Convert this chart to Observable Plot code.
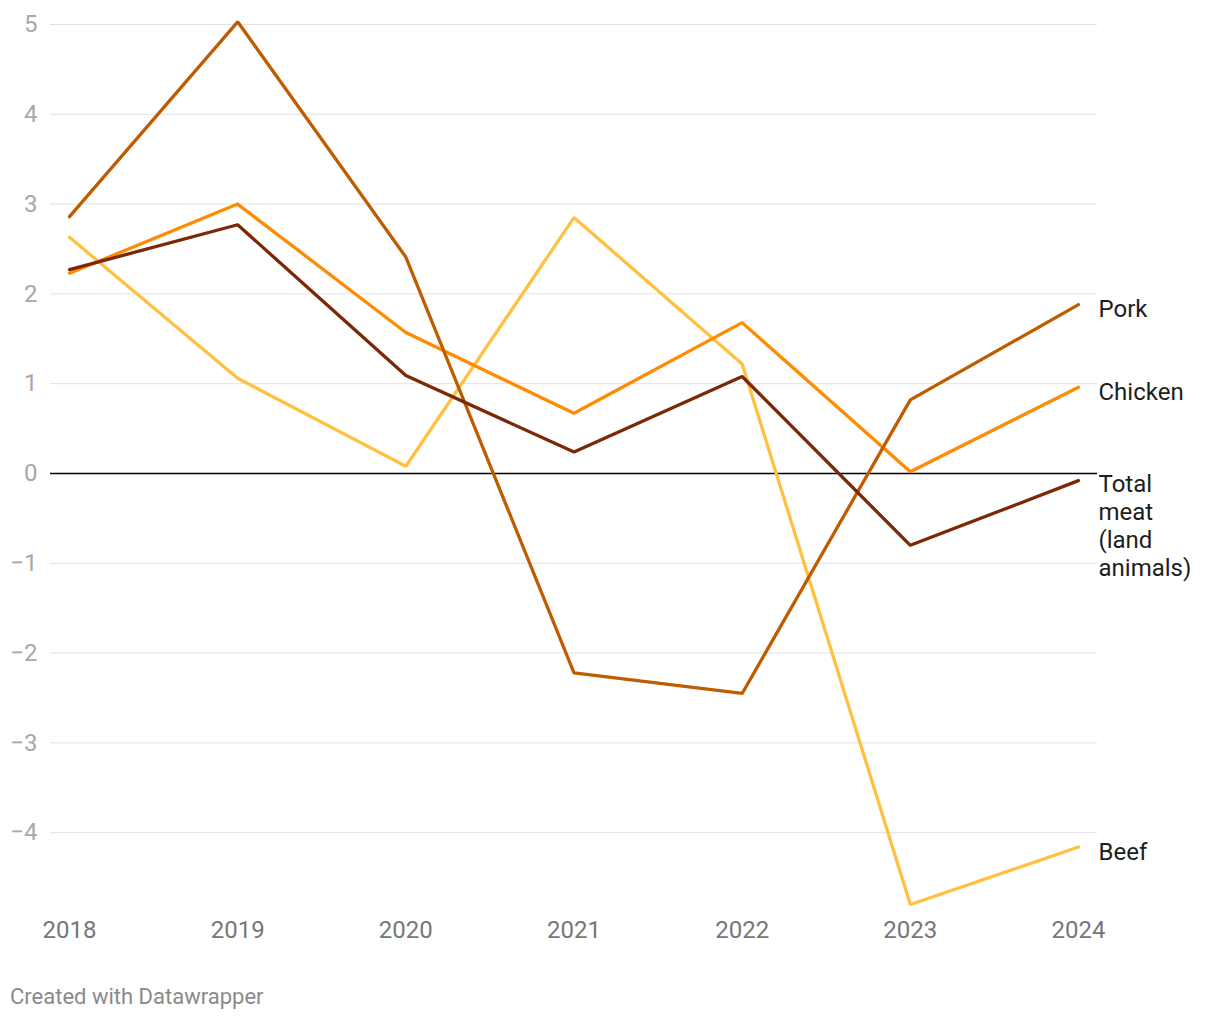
<!DOCTYPE html>
<html>
<head>
<meta charset="utf-8">
<script src="https://cdn.jsdelivr.net/npm/d3@7"></script>
<script src="https://cdn.jsdelivr.net/npm/@observablehq/plot@0.6"></script>
<style>
  body { margin: 0; background: #fff; font-family: Roboto, "Noto Sans", sans-serif; }
  #wrap { position: relative; width: 1220px; height: 1020px; }
  #footer { position: absolute; left: 10px; top: 985px; font-size: 22px; line-height: 24px; color: #8a8a8a; font-family: Roboto, sans-serif; }
</style>
</head>
<body>
<div id="wrap">
  <div id="chart"></div>
  <div id="footer">Created with Datawrapper</div>
</div>
<script>
const years = [2018, 2019, 2020, 2021, 2022, 2023, 2024];
const pork = [2.86, 5.03, 2.41, -2.22, -2.45, 0.82, 1.88];
const chicken = [2.23, 3.0, 1.57, 0.67, 1.68, 0.02, 0.96];
const totalMeat = [2.27, 2.77, 1.09, 0.24, 1.08, -0.80, -0.08];
const beef = [2.63, 1.06, 0.08, 2.85, 1.22, -4.80, -4.16];
const yTicks = [-4, -3, -2, -1, 0, 1, 2, 3, 4, 5];

const seriesList = [
  {name: "Beef", label: "Beef", values: beef, color: "#ffc13f"},
  {name: "Chicken", label: "Chicken", values: chicken, color: "#ff8c00"},
  {name: "Pork", label: "Pork", values: pork, color: "#c05c00"},
  {name: "Total meat", label: "Total\nmeat\n(land\nanimals)", values: totalMeat, color: "#7b2806"}
];

const rows = seriesList.flatMap(s => years.map((yr, i) => ({series: s.name, year: yr, value: s.values[i]})));
const lastPts = seriesList.map(s => ({series: s.name, label: s.label, year: years[years.length - 1], value: s.values[s.values.length - 1]}));

const chart = Plot.plot({
  width: 1220,
  height: 960,
  marginLeft: 50,
  marginRight: 123,
  marginTop: 20,
  marginBottom: 56,
  style: {fontFamily: "Roboto, sans-serif", background: "#fff"},
  x: {domain: [2018, 2024], range: [69, 1078], label: null},
  y: {domain: [-4.8, 5], range: [904, 24], label: null},
  marks: [
    Plot.ruleY(yTicks.filter(d => d !== 0), {stroke: "#e2e2e2", strokeWidth: 1}),
    Plot.axisY(yTicks, {tickSize: 0, tickPadding: 13, fontSize: 24, fill: "#a8a8a8", label: null, tickFormat: d => d < 0 ? "\u2212" + Math.abs(d) : String(d)}),
    Plot.axisX(years, {tickSize: 0, tickPadding: 16, fontSize: 24, fill: "#777", label: null, tickFormat: d => String(d)}),
    Plot.ruleY([0], {stroke: "#000", strokeWidth: 1.3}),
    ...seriesList.map(s => Plot.line(rows.filter(r => r.series === s.name), {
      x: "year", y: "value", stroke: s.color, strokeWidth: 3.3, strokeLinejoin: "miter", strokeLinecap: "round"
    })),
    Plot.text(lastPts.filter(d => d.series !== "Total meat"), {
      x: "year", y: "value", text: "label", textAnchor: "start", dx: 20, dy: 5,
      fontSize: 24, fill: "#1d1d1d"
    }),
    Plot.text(lastPts.filter(d => d.series === "Total meat"), {
      x: "year", y: "value", text: "label", textAnchor: "start", lineAnchor: "top", dx: 20, dy: -9,
      fontSize: 24, lineHeight: 1.1667, fill: "#1d1d1d"
    })
  ]
});
document.getElementById("chart").appendChild(chart);
</script>
</body>
</html>
